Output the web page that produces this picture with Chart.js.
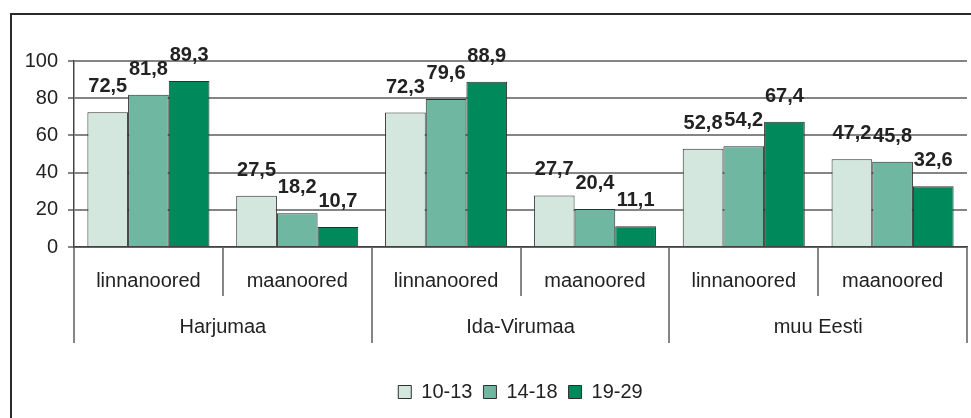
<!DOCTYPE html>
<html>
<head>
<meta charset="utf-8">
<script src="https://cdn.jsdelivr.net/npm/chart.js@4.4.0/dist/chart.umd.min.js"></script>
<style>
  html, body { margin: 0; padding: 0; background: #fff; }
  #wrap { position: relative; width: 971px; height: 418px; overflow: hidden; }
  #frame { position: absolute; left: 10px; top: 13px; width: 980px; height: 420px;
           border-left: 2px solid #2a2a2a; border-top: 2px solid #2a2a2a; }
  canvas { position: absolute; left: 0; top: 0; }
</style>
</head>
<body>
<div id="wrap">
  <div id="frame"></div>
  <canvas id="c" width="971" height="418"></canvas>
</div>
<script>
const categories = ['linnanoored', 'maanoored', 'linnanoored', 'maanoored', 'linnanoored', 'maanoored'];
const regions = ['Harjumaa', 'Ida-Virumaa', 'muu Eesti'];
const seriesNames = ['10-13', '14-18', '19-29'];
const s1013 = [72.5, 27.5, 72.3, 27.7, 52.8, 47.2];
const s1418 = [81.8, 18.2, 79.6, 20.4, 54.2, 45.8];
const s1929 = [89.3, 10.7, 88.9, 11.1, 67.4, 32.6];
const yTicks = [0, 20, 40, 60, 80, 100];

const FONT = 'Liberation Sans, Arial, sans-serif';
const FS = 20;
const TXT = '#222';
const GRID = '#858585';

const valueLabels = {
  id: 'valueLabels',
  afterDatasetsDraw(chart) {
    const ctx = chart.ctx;
    ctx.save();
    ctx.font = 'bold ' + FS + 'px ' + FONT;
    ctx.fillStyle = TXT;
    ctx.textAlign = 'center';
    ctx.textBaseline = 'alphabetic';
    chart.data.datasets.forEach((ds, di) => {
      const meta = chart.getDatasetMeta(di);
      meta.data.forEach((el, i) => {
        const txt = ds.data[i].toFixed(1).replace('.', ',');
        ctx.fillText(txt, el.x, el.y - 20);
      });
    });
    ctx.restore();
  }
};

new Chart(document.getElementById('c'), {
  type: 'bar',
  data: {
    labels: categories,
    datasets: [
      { label: seriesNames[0], data: s1013, backgroundColor: '#d3e7df', borderColor: '#2e2e2e', borderWidth: 1 },
      { label: seriesNames[1], data: s1418, backgroundColor: '#6fb7a0', borderColor: '#2e2e2e', borderWidth: 1 },
      { label: seriesNames[2], data: s1929, backgroundColor: '#008a5b', borderColor: '#2e2e2e', borderWidth: 1 }
    ]
  },
  options: {
    responsive: false,
    devicePixelRatio: 1,
    animation: false,
    layout: { padding: { left: 0, right: 4, top: 61, bottom: 6 } },
    datasets: { bar: { categoryPercentage: 0.82, barPercentage: 1.0 } },
    plugins: {
      tooltip: { enabled: false },
      legend: {
        position: 'bottom',
        fullSize: false,
        labels: {
          boxWidth: 13, boxHeight: 13, padding: 11,
          color: TXT, font: { family: FONT, size: FS }
        }
      }
    },
    scales: {
      y: {
        min: 0, max: 100,
        afterBuildTicks: (s) => { s.ticks = yTicks.map(v => ({ value: v })); },
        afterFit: (s) => { s.width = 74; },
        ticks: { color: TXT, font: { family: FONT, size: FS }, padding: 10 },
        grid: { color: GRID, lineWidth: 2, tickLength: 6, tickColor: GRID },
        border: { display: true, color: '#444', width: 1.5 }
      },
      x: {
        weight: 0,
        offset: true,
        afterFit: (s) => { s.height = 49; },
        ticks: { color: TXT, font: { family: FONT, size: FS }, padding: -27, maxRotation: 0, autoSkip: false },
        grid: {
          offset: true,
          drawOnChartArea: true,
          color: (c) => (c.index === categories.length ? GRID : 'rgba(0,0,0,0)'),
          lineWidth: 2,
          tickLength: 49,
          tickColor: GRID,
          tickWidth: 2
        },
        border: { display: true, color: '#444', width: 1.5 }
      },
      x2: {
        type: 'category',
        labels: regions,
        position: 'bottom',
        weight: 1,
        offset: true,
        afterFit: (s) => { s.height = 75; },
        ticks: { color: TXT, font: { family: FONT, size: FS }, padding: -28, maxRotation: 0, autoSkip: false },
        grid: {
          offset: true,
          drawOnChartArea: false,
          color: GRID,
          lineWidth: 2,
          tickLength: 47
        },
        border: { display: false }
      }
    }
  },
  plugins: [valueLabels]
});
</script>
</body>
</html>
